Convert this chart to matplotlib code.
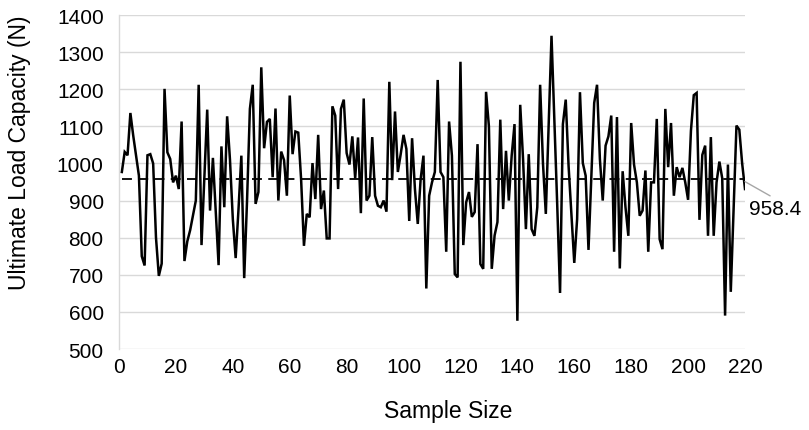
import matplotlib
matplotlib.use("Agg")
import matplotlib.pyplot as plt

plt.rcParams['font.family'] = ['Liberation Sans', 'DejaVu Sans']

sample_index = list(range(1, 221))
load_capacity = [
    977, 1031, 1022, 1136, 1075, 1022, 967, 750, 725, 1022,
    1025, 1000, 800, 697, 730, 1201, 1030, 1012, 949, 967,
    931, 1113, 737, 790, 820, 860, 900, 1212, 780, 960,
    1145, 873, 1015, 870, 726, 1046, 882, 1127, 1010, 850,
    745, 877, 1021, 691, 900, 1147, 1212, 891, 923, 1259,
    1041, 1112, 1120, 963, 1148, 900, 1032, 1009, 913, 1183,
    1025, 1086, 1083, 957, 778, 864, 855, 1001, 904, 1077,
    877, 927, 798, 798, 1154, 1129, 931, 1147, 1172, 1028,
    997, 1073, 960, 1070, 866, 1175, 900, 913, 1071, 913,
    886, 882, 900, 870, 1220, 955, 1140, 977, 1025, 1077,
    1039, 845, 1068, 931, 837, 957, 1021, 663, 913, 949,
    977, 1225, 977, 963, 762, 1113, 1021, 702, 693, 1274,
    780, 895, 923, 856, 869, 1052, 729, 716, 1193, 1100,
    716, 806, 842, 1118, 877, 1034, 900, 1021, 1106, 576,
    1158, 1012, 823, 1025, 823, 805, 882, 1212, 1000, 864,
    1100, 1344, 1120, 890, 651, 1106, 1172, 993, 860, 732,
    850, 1192, 1001, 967, 767, 963, 1163, 1212, 1012, 900,
    1048, 1073, 1129, 762, 1125, 717, 979, 882, 805, 1109,
    997, 949, 859, 873, 981, 762, 949, 949, 1120, 796,
    769, 1147, 990, 1109, 913, 990, 963, 988, 949, 902,
    1088, 1184, 1190, 848, 1023, 1048, 805, 1071, 805, 949,
    1005, 960, 590, 997, 654, 880, 1102, 1091, 1000, 931,
]
mean_value = 958.4
x_ticks = list(range(0, 221, 20))
y_ticks = list(range(500, 1401, 100))

fig = plt.figure(figsize=(8.09, 4.31), dpi=100)
ax = fig.add_axes([119 / 809, 1 - 350 / 431, (745 - 119) / 809, (350 - 16) / 431])

ax.plot(sample_index, load_capacity, color='black', lw=1.8, zorder=3,
        solid_joinstyle='miter')
ax.plot([sample_index[0], sample_index[-1]], [mean_value, mean_value],
        color='black', lw=1.3, ls=(0, (5.5, 3.5)), zorder=2)

ax.set_xlim(0, 220)
ax.set_ylim(500, 1400)
ax.set_xticks(x_ticks)
ax.set_yticks(y_ticks)
ax.grid(axis='y', color='#d9d9d9', lw=1.0)
ax.set_axisbelow(True)
for s in ['top', 'right', 'bottom']:
    ax.spines[s].set_visible(False)
ax.spines['left'].set_color('#d9d9d9')
ax.spines['left'].set_linewidth(1.0)
ax.tick_params(length=0, labelsize=15, colors='black')
ax.tick_params(axis='x', pad=6)
ax.tick_params(axis='y', pad=11)

ax.set_xlabel('Sample Size', fontsize=16.5)
ax.set_ylabel('Ultimate Load Capacity (N)', fontsize=16.5)
ax.xaxis.set_label_coords(0.5256, -0.150)
ax.yaxis.set_label_coords(-0.140, 0.59)

ax.annotate(f'{mean_value}', xy=(sample_index[-1], load_capacity[-1] + 20),
            xytext=(30, -17), textcoords='offset pixels',
            ha='center', va='top', fontsize=15,
            arrowprops=dict(arrowstyle='-', color='#a6a6a6', lw=1.0,
                            relpos=(0.5, 1.0), shrinkA=0, shrinkB=0),
            annotation_clip=False)

fig.savefig('out.png', dpi=100)
